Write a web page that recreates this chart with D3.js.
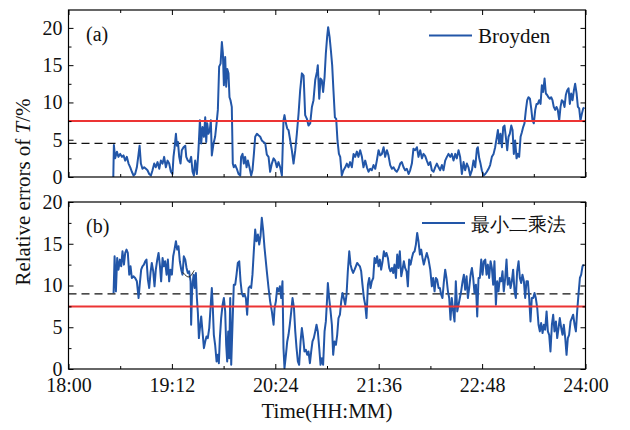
<!DOCTYPE html>
<html><head><meta charset="utf-8">
<script src="https://cdn.jsdelivr.net/npm/d3@7/dist/d3.min.js"></script>
<style>
body{margin:0;background:#fff}
svg{font:20px "Liberation Serif";}
text{font-family:"Liberation Serif";}
</style>
</head><body><svg id="c" width="630" height="430"></svg>
<script>
// time in minutes after 18:00
const timeTicks = [0,72,144,216,288,360];
const timeLabels = ["18:00","19:12","20:24","21:36","22:48","24:00"];
const timeMinor = [36,108,180,252,324];
const yTicks = [0,5,10,15,20];
const yMinor = [2.5,7.5,12.5,17.5];
const seriesNames = ["Broyden","最小二乘法"];
const panelLabels = ["(a)","(b)"];
const redLevel = [7.5,7.5];
const dashLevel = [4.5,9.0];

const timeA = [31.2,31.6,32.5,33.7,34.8,36.0,37.2,38.3,39.5,40.6,
41.8,43.0,44.1,45.3,46.4,47.6,48.8,49.5,50.4,51.5,
52.7,53.9,55.0,56.2,57.4,58.5,59.7,60.8,62.0,63.2,
64.3,65.5,66.6,67.8,69.0,70.1,71.3,72.4,73.1,73.8,
74.8,75.5,76.2,77.1,78.0,78.9,80.1,81.3,82.0,83.1,
84.3,85.4,86.4,87.3,88.2,89.4,90.5,91.5,92.4,93.3,
94.3,95.2,95.9,96.6,97.5,98.4,99.1,99.8,101.0,102.1,
103.1,104.0,104.9,105.9,106.8,107.5,108.2,109.1,109.8,110.5,
111.4,112.1,112.8,113.7,114.4,115.1,116.1,117.2,118.4,119.6,
120.2,121.2,122.1,123.0,124.0,124.9,126.0,127.2,128.1,129.1,
130.0,131.2,132.3,133.5,134.6,135.8,137.0,138.1,139.3,140.4,
141.6,142.8,143.9,145.1,146.2,147.4,148.6,149.7,150.4,151.4,
152.3,153.2,154.4,155.5,156.7,157.9,159.0,160.2,161.3,162.5,
163.7,164.8,166.0,167.1,168.3,169.5,170.6,171.8,173.0,173.6,
174.6,175.5,176.4,177.3,178.3,179.2,180.1,180.8,181.8,182.7,
183.6,184.5,185.5,186.4,187.3,188.3,189.2,190.3,191.5,192.7,
193.8,195.0,196.1,197.3,198.5,199.6,200.8,201.9,203.1,204.3,
205.4,206.6,207.8,208.9,210.1,211.2,212.4,213.6,214.7,215.9,
217.0,218.2,219.4,220.5,221.7,222.8,224.0,225.2,226.3,227.5,
228.6,229.8,231.0,232.1,233.3,234.4,235.6,236.8,237.9,239.1,
240.2,241.4,242.6,243.7,244.9,246.1,247.2,248.4,249.5,250.7,
251.9,253.0,254.2,255.3,256.5,257.7,258.8,260.0,261.1,262.3,
263.5,264.6,265.8,266.9,268.1,269.3,270.4,271.6,272.7,273.9,
275.1,276.2,277.4,278.5,279.7,280.9,282.0,283.2,284.4,285.0,
286.0,286.9,287.8,289.0,290.2,291.3,292.5,293.6,294.8,296.0,
297.1,298.3,299.0,299.9,300.8,301.8,302.7,303.6,304.5,305.5,
306.4,307.3,308.3,309.2,310.1,311.0,312.0,312.9,313.8,314.8,
315.7,316.6,317.5,318.5,319.4,320.3,321.3,322.2,323.1,324.0,
325.0,325.9,326.8,327.7,328.7,329.6,330.5,331.5,332.4,333.3,
334.2,335.2,336.1,337.0,337.9,338.9,339.8,340.7,341.7,342.6,
343.5,344.5,345.4,346.3,347.2,348.2,349.1,350.0,351.0,351.9,
352.8,353.8,354.7,355.6,356.5,357.5,358.4,359.3];
const errA = [0,4.3,2.5,3.4,2.7,3.1,2.7,2.9,2.2,2.7,
1.8,1.3,0.7,0.2,0.4,1.3,3.1,4.2,1.8,1.1,
1.3,1.1,0.9,0.4,0.2,0.9,1.8,1.3,2.0,1.1,
2.2,1.8,2.7,1.3,2.2,1.8,0.7,0.4,2.7,3.8,
5.8,4.2,4.7,2.7,1.8,3.6,4.0,4.2,2.7,2.2,
2.0,2.7,0.7,0.2,2.2,0.4,3.6,7.6,4.5,6.7,
5.4,8.0,4.7,7.2,5.8,6.3,7.6,2.9,4.5,5.4,
7.2,9.0,14.8,15.2,18.1,16.6,12.3,16.1,12.1,14.5,
13.9,10.7,10.3,9.4,1.8,1.3,1.6,1.1,0.4,0.2,
2.7,3.1,1.8,2.7,1.3,2.2,1.3,0.2,0.9,3.1,
5.4,5.8,5.6,5.4,4.9,4.7,4.5,3.0,2.7,0.7,
1.8,2.5,2.2,1.3,2.0,1.3,0.2,7.6,8.3,7.2,
6.5,6.3,4.9,3.6,1.8,3.6,5.8,8.5,11.6,13.9,
13.6,8.3,7.8,6.9,7.2,9.4,10.3,13.0,14.1,15.0,
10.5,13.2,13.0,11.4,13.4,16.6,18.8,20.1,18.8,17.0,
15.0,11.6,8.0,7.8,4.9,3.1,2.7,0.2,0.9,1.3,
1.8,1.3,2.0,1.3,3.1,2.7,3.4,2.7,3.6,2.7,
1.3,2.2,1.3,0.7,1.1,0.9,1.6,1.1,2.2,3.6,
2.9,3.1,4.0,2.7,3.6,2.9,1.6,1.1,1.3,0.9,
0.7,1.1,1.8,2.0,1.3,0.9,1.1,0.4,0.9,1.8,
3.8,3.6,4.0,2.7,3.6,2.5,3.1,2.8,2.2,1.6,
2.0,0.9,0.7,1.3,1.8,1.3,0.9,1.6,0.9,2.2,
2.7,3.1,2.7,3.1,2.2,3.1,2.5,3.6,2.7,0.4,
2.0,0.9,1.8,1.3,0.2,0.9,2.2,1.3,3.8,4.0,
2.5,1.8,0.9,0.2,0.4,0.7,1.1,1.6,2.7,3.1,
4.0,5.4,6.3,4.5,5.8,4.0,6.7,6.9,5.4,3.6,
5.4,5.8,6.9,6.3,3.1,4.9,2.5,3.1,2.7,5.4,
6.0,6.7,7.2,9.0,10.3,10.7,10.5,9.2,7.6,7.2,
9.0,9.8,9.8,10.3,9.8,12.3,11.4,13.2,11.2,11.0,
10.7,10.5,10.7,10.3,9.4,9.0,9.4,9.0,7.6,9.4,
10.3,10.1,9.4,11.0,11.6,11.9,9.8,11.2,10.3,11.6,
12.5,11.2,9.4,9.2,7.6,8.5,9.2,9.3];

const timeB = [31.4,32.1,33.0,33.9,34.8,35.8,36.7,37.6,38.6,39.5,
40.4,41.3,42.3,43.2,44.1,45.3,46.4,47.6,48.8,49.7,
50.6,51.5,52.5,53.4,54.3,55.3,56.2,57.1,58.0,59.0,
59.9,60.8,61.8,62.7,63.6,64.5,65.5,66.4,67.3,68.3,
69.2,70.1,71.0,72.0,72.9,73.8,74.8,75.7,76.6,77.5,
78.5,79.4,80.3,81.3,82.2,83.1,84.0,85.0,85.4,86.1,
87.1,87.8,88.7,89.4,90.1,90.8,91.5,92.4,93.3,94.3,
95.2,96.1,97.0,98.0,98.9,99.8,100.5,101.2,102.1,103.1,
104.0,104.7,105.4,106.3,107.3,108.2,109.1,109.8,110.5,111.2,
111.9,112.6,113.3,114.2,115.1,116.1,117.0,117.9,118.9,119.8,
120.7,121.6,122.6,123.5,124.4,125.4,126.3,127.2,128.1,129.1,
130.0,130.9,131.9,132.8,133.7,134.6,135.6,136.5,138.1,139.3,
140.4,141.6,142.8,143.5,144.4,145.3,146.2,147.2,148.1,149.0,
149.7,150.4,151.4,152.3,153.2,154.1,155.1,156.0,157.0,157.9,
158.8,159.7,160.6,161.6,162.5,163.4,164.3,165.3,166.2,167.1,
168.1,169.0,169.9,170.8,171.8,172.7,173.6,174.6,175.5,176.4,
177.3,178.3,179.2,180.1,180.6,181.5,182.5,183.4,184.3,185.2,
186.2,187.1,188.0,189.0,189.9,190.8,191.7,192.7,193.6,194.5,
195.5,196.4,197.3,198.2,199.2,200.1,201.0,201.9,202.9,203.8,
204.7,205.7,206.6,207.5,208.5,209.4,210.3,211.2,212.2,213.1,
214.0,214.9,215.9,216.8,217.7,218.7,219.6,220.5,221.4,222.4,
223.3,224.2,225.2,226.1,227.0,228.0,228.9,229.8,230.7,231.7,
232.6,233.5,234.4,235.4,236.3,237.2,238.2,239.1,240.0,241.0,
241.9,242.8,243.7,244.7,245.6,246.5,247.4,248.4,249.5,250.7,
251.9,253.0,253.9,254.9,255.8,256.7,257.7,258.6,259.5,260.4,
261.4,262.3,263.2,264.2,265.1,266.0,266.9,267.9,268.8,269.7,
270.7,271.6,272.5,273.4,274.4,275.3,276.2,277.2,278.1,279.0,
280.0,280.9,281.8,282.7,283.7,284.6,285.5,286.4,287.4,288.3,
289.2,290.2,291.1,292.0,292.9,293.9,294.8,295.7,296.6,297.6,
298.5,299.4,300.4,301.3,302.2,303.1,304.1,305.0,305.9,306.9,
307.8,308.7,309.6,310.6,311.5,312.4,313.4,314.3,315.2,316.1,
317.1,318.0,318.9,319.9,320.8,321.7,322.6,323.6,324.5,325.4,
326.4,327.3,328.2,329.1,330.1,331.0,331.9,332.9,333.8,334.7,
335.6,336.6,337.5,338.4,339.4,340.3,341.2,342.1,343.1,344.0,
344.9,345.9,346.8,347.7,348.6,349.6,350.5,351.4,352.4,353.3,
354.2,355.1,356.1,357.0,357.9,358.8];
const errB = [9.1,13.5,9.3,13.3,11.9,13.1,12.3,14.1,12.5,13.9,
14.3,13.9,11.3,12.3,10.9,11.1,10.9,10.5,8.5,10.3,
11.9,12.3,12.5,12.9,13.1,10.7,9.7,11.5,12.7,11.7,
9.9,11.9,13.1,13.9,12.5,10.5,13.3,12.3,12.9,11.3,
13.1,10.5,11.9,11.3,13.5,14.3,15.3,14.3,14.7,12.9,
11.9,11.3,13.5,13.1,12.1,11.5,11.7,10.5,5.3,9.7,
11.3,9.7,11.5,8.5,6.7,3.7,4.9,6.3,4.5,2.5,
3.3,3.9,3.7,4.9,7.3,9.7,7.3,4.1,2.9,0.9,
1.7,0.7,3.7,6.1,7.7,8.5,6.9,2.9,0.9,4.5,
1.3,8.5,0.5,5.3,10.1,10.1,11.3,12.7,12.9,10.5,
9.1,8.7,8.9,8.5,6.5,9.7,9.9,9.7,11.3,14.3,
16.7,15.3,16.1,14.9,15.9,18.1,16.5,14.5,11.7,9.7,
8.1,6.9,5.3,7.3,8.1,9.7,9.3,9.9,8.5,10.5,
2.5,0.1,1.7,3.3,4.1,5.3,6.9,8.5,7.3,4.5,
2.5,0.9,0.5,3.3,4.9,3.7,2.1,2.3,1.7,2.1,
0.7,2.1,3.3,3.7,4.5,5.3,4.5,2.5,0.5,1.3,
0.5,4.5,5.7,8.5,10.3,8.5,6.9,5.3,1.7,3.3,
2.9,4.1,6.1,6.5,8.1,9.1,8.5,7.7,8.9,11.7,
14.1,12.5,11.9,11.5,11.9,12.3,12.7,12.5,12.3,11.7,
10.1,8.5,7.7,6.1,10.1,10.9,9.7,10.5,10.9,13.3,
12.7,13.5,12.3,13.1,11.9,12.9,14.1,13.5,13.9,13.3,
12.1,11.7,12.1,11.5,12.5,10.9,13.7,12.1,14.1,11.1,
11.9,12.9,12.1,11.7,9.9,13.1,12.5,13.3,13.9,14.1,
14.9,16.3,15.3,13.7,14.3,13.3,12.5,13.2,13.9,13.1,
11.9,9.9,10.9,9.3,10.9,10.7,9.7,9.7,8.9,8.5,
10.5,11.9,10.9,9.3,8.5,5.9,8.5,6.9,5.7,10.5,
6.9,7.7,8.5,9.3,10.5,11.3,9.5,11.1,8.5,9.7,
11.3,12.1,10.9,9.1,10.1,6.3,10.9,10.9,13.1,11.3,
12.9,13.1,11.3,12.5,10.9,12.9,12.1,10.1,12.9,7.7,
10.5,9.3,10.9,10.5,11.7,9.3,10.9,13.1,10.1,10.9,
9.7,10.5,11.9,9.3,8.5,11.7,12.9,10.9,10.3,11.3,
10.5,8.5,10.5,10.5,8.5,5.7,8.5,8.5,9.1,8.5,
7.3,5.3,4.5,5.5,4.3,5.3,4.7,6.9,4.5,4.1,
2.1,5.3,6.5,4.5,5.7,3.7,4.9,6.1,4.9,4.1,
5.3,3.7,1.7,3.7,4.1,5.7,6.1,6.5,5.3,4.5,
6.9,8.9,10.9,11.3,12.3,12.5];
// small black annotation arc in panel (b)
const arcT = [79.4,82.0,84.5,87.5];
const arcV = [11.6,11.1,10.9,11.8];

const svg = d3.select("#c");
const FONT = "Liberation Serif";
const CJK = "Noto Serif CJK SC";
const BLUE = "#2256a8", RED = "#ec3434";
const L = 68.5, R = 585.5;
const x = d3.scaleLinear().domain([0,360]).range([L,R]);
const panels = [
  {top:10, bottom:177, ymax:22.4, t:timeA, v:errA},
  {top:202, bottom:369, ymax:20, t:timeB, v:errB}
];

panels.forEach((p, i) => {
  const y = d3.scaleLinear().domain([0,p.ymax]).range([p.bottom,p.top]);
  const g = svg.append("g");
  const clipId = "clip"+i;
  svg.append("clipPath").attr("id",clipId).append("rect")
    .attr("x",L).attr("y",p.top).attr("width",R-L).attr("height",p.bottom-p.top);

  g.append("line").attr("x1",L).attr("x2",R).attr("y1",y(dashLevel[i])).attr("y2",y(dashLevel[i]))
    .attr("stroke","#111").attr("stroke-width",1.3).attr("stroke-dasharray","8,5");
  const line = d3.line().x(d=>x(d[0])).y(d=>y(d[1]));
  const pts = p.t.map((t,k)=>[t,p.v[k]]);
  g.append("path").attr("d",line(pts)).attr("fill","none").attr("stroke",BLUE)
    .attr("stroke-width",2).attr("stroke-linejoin","round").attr("clip-path","url(#"+clipId+")");
  g.append("line").attr("x1",L).attr("x2",R).attr("y1",y(redLevel[i])).attr("y2",y(redLevel[i]))
    .attr("stroke",RED).attr("stroke-width",2);
  if (i===1) {
    g.append("path").attr("d",d3.line().curve(d3.curveBasis).x(d=>x(d[0])).y(d=>y(d[1]))(arcT.map((t,k)=>[t,arcV[k]])))
      .attr("fill","none").attr("stroke","#222").attr("stroke-width",1);
  }

  const mk = (axis, tr, vals, size, labels) => {
    const a = g.append("g").attr("transform",tr)
      .call(axis.tickValues(vals).tickSize(size).tickSizeOuter(0).tickPadding(6)
        .tickFormat(labels ? labels : ""));
    a.attr("font-family",FONT).attr("font-size",20);
    a.select(".domain").remove();
    a.selectAll("line").attr("stroke","#000").attr("stroke-width",1);
    a.selectAll("text").attr("font-family",FONT).attr("font-size",20).attr("fill","#111");
    return a;
  };
  mk(d3.axisLeft(y), `translate(${L},0)`, yTicks, -5, d=>d);
  mk(d3.axisLeft(y), `translate(${L},0)`, yMinor, -3, null);
  mk(d3.axisRight(y), `translate(${R},0)`, yTicks, -5, null);
  mk(d3.axisRight(y), `translate(${R},0)`, yMinor, -3, null);
  mk(d3.axisTop(x), `translate(0,${p.top})`, timeTicks, -5, null);
  mk(d3.axisTop(x), `translate(0,${p.top})`, timeMinor, -3, null);
  const bx = mk(d3.axisBottom(x), `translate(0,${p.bottom})`, timeTicks, -5,
     i===1 ? (d,k)=>timeLabels[k] : null);
  bx.selectAll("text").attr("dy","0.71em").attr("y",9);
  mk(d3.axisBottom(x), `translate(0,${p.bottom})`, timeMinor, -3, null);

  g.append("rect").attr("x",L).attr("y",p.top).attr("width",R-L).attr("height",p.bottom-p.top)
    .attr("fill","none").attr("stroke","#000").attr("stroke-width",1.2);

  g.append("text").attr("x",86).attr("y",p.top+31).attr("font-family",FONT).attr("font-size",20)
    .attr("fill","#111").text(panelLabels[i]);

  const ly = i===0 ? 35.5 : 223;
  const lx0 = i===0 ? 429 : 422, lx1 = i===0 ? 472 : 465;
  g.append("line").attr("x1",lx0).attr("x2",lx1).attr("y1",ly).attr("y2",ly).attr("stroke",BLUE).attr("stroke-width",2);
  g.append("text").attr("x",lx1+6).attr("y",ly+ (i===0 ? 7 : 7.5))
    .attr("font-family", i===0 ? FONT : CJK)
    .attr("font-size", i===0 ? 21 : 18.5).attr("fill","#111").text(seriesNames[i]);
});

svg.append("text").attr("x",(L+R)/2).attr("y",418).attr("text-anchor","middle")
  .attr("font-family",FONT).attr("font-size",21).attr("fill","#111").text("Time(HH:MM)");
const yt = svg.append("text").attr("transform","translate(30,192) rotate(-90)").attr("text-anchor","middle")
  .attr("font-family",FONT).attr("font-size",21).attr("fill","#111");
yt.append("tspan").text("Relative errors of ");
yt.append("tspan").attr("font-style","italic").text("T");
yt.append("tspan").text("/%");
</script></body></html>
